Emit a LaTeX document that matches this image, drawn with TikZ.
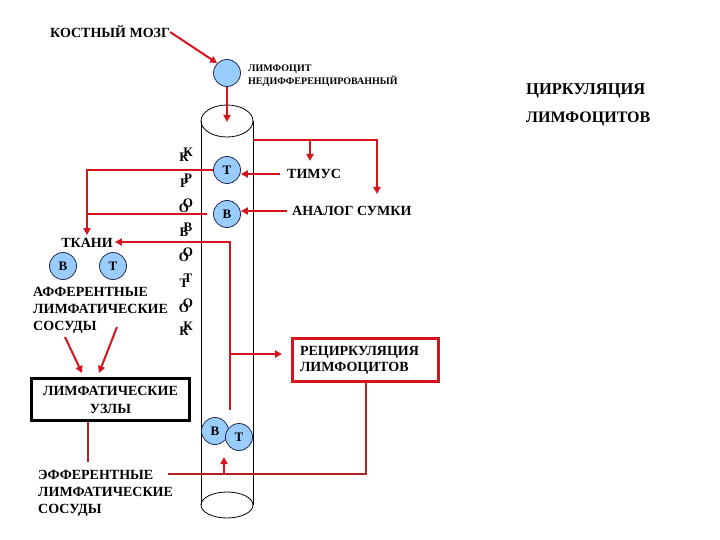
\documentclass[tikz,border=0pt]{standalone}
\usepackage{fontspec}
\setmainfont{Liberation Serif}
\usetikzlibrary{arrows.meta}
\definecolor{ared}{RGB}{214,20,28}
\definecolor{dred}{RGB}{178,34,34}
\definecolor{cellblue}{RGB}{153,204,255}
\definecolor{celledge}{RGB}{30,40,80}
\begin{document}
\begin{tikzpicture}[x=1pt,y=-1pt,
 lbl/.style={font=\bfseries\fontsize{14}{17}\selectfont, inner sep=0pt, align=left},
 cell/.style={circle, draw=celledge, line width=0.8pt, fill=cellblue, minimum size=27pt, inner sep=0pt, font=\bfseries\fontsize{13}{13}\selectfont},
 arr/.style={draw=ared, line width=2pt, -{Triangle[length=7pt,width=7pt]}},
 rline/.style={draw=ared, line width=2pt},
 dline/.style={draw=dred, line width=2pt},
 letter/.style={font=\bfseries\fontsize{13}{13}\selectfont, inner sep=0pt},
 tube/.style={draw=black, line width=0.8pt}]
\useasboundingbox (0,0) rectangle (720,540);
\fill[white] (0,0) rectangle (720,540);

% tube
\draw[tube] (227,121) ellipse [x radius=26, y radius=16];
\draw[tube] (201,121) -- (201,505);
\draw[tube] (253,121) -- (253,505);
\draw[tube] (227,505) ellipse [x radius=26, y radius=13];

% vertical word
\foreach \ch/\yy [count=\i] in {К/157,Р/183,О/208,В/232,О/257,Т/283,О/308,К/331}{
  \node[letter] (lo\i) at (184,\yy) {\ch};
  \node[letter] (up\i) at (188,\yy-5) {\ch};
}

% texts and cells
\node[lbl, anchor=west] (km) at (50,32) {КОСТНЫЙ МОЗГ};
\node[cell] (lym) at (227,73) {};
\node[lbl, anchor=west, font=\bfseries\fontsize{10}{13}\selectfont] (lymt) at (248,76) {ЛИМФОЦИТ\\НЕДИФФЕРЕНЦИРОВАННЫЙ};
\node[lbl, anchor=west, font=\bfseries\fontsize{16.5}{17}\selectfont] (circ1) at (526,91) {ЦИРКУЛЯЦИЯ};
\node[lbl, anchor=west, font=\bfseries\fontsize{16}{17}\selectfont] (circ2) at (526,119) {ЛИМФОЦИТОВ};
\node[cell] (T) at (227,170) {Т};
\node[cell] (B) at (227,214) {В};
\node[lbl, anchor=west] (timus) at (287,174) {ТИМУС};
\node[lbl, anchor=west] (analog) at (292,211) {АНАЛОГ СУМКИ};
\node[lbl] (tkani) at (87,243) {ТКАНИ};
\node[cell] (tB) at (63,266) {В};
\node[cell] (tT) at (113,266) {Т};
\node[lbl, anchor=west] (aff) at (33,310) {АФФЕРЕНТНЫЕ\\ЛИМФАТИЧЕСКИЕ\\СОСУДЫ};
\node[lbl, align=center, draw=black, line width=3pt, minimum width=158pt, minimum height=42pt, font=\bfseries\fontsize{14}{18}\selectfont] (uzly) at (110.5,399.5) {ЛИМФАТИЧЕСКИЕ\\УЗЛЫ};
\node[lbl, anchor=west] (eff) at (38,493) {ЭФФЕРЕНТНЫЕ\\ЛИМФАТИЧЕСКИЕ\\СОСУДЫ};
\node[lbl, draw=ared, line width=3pt, text width=131pt, minimum width=146pt, minimum height=43pt, font=\bfseries\fontsize{14}{16}\selectfont] (recirc) at (365.5,360) {РЕЦИРКУЛЯЦИЯ\\ЛИМФОЦИТОВ};
\node[cell] (bB) at (215,431) {В};
\node[cell] (bT) at (239,437) {Т};

% coordinates
\coordinate (c0) at (227,122);
\coordinate (r0) at (253,140);
\coordinate (r1) at (310,140);
\coordinate (r1e) at (310,161);
\coordinate (r2e) at (377,194);
\coordinate (v0) at (230,242);
\coordinate (v1) at (230,410);
\coordinate (vb) at (230,354);
\coordinate (e2) at (168,474);
\coordinate (e3) at (224,474);
\coordinate (e4) at (224,457);
\coordinate (u1) at (88,462);
\coordinate (a1) at (65,337);
\coordinate (a2) at (82,373);
\coordinate (b1) at (117,327);
\coordinate (b2) at (99,373);

% connectors
\draw[arr] (km.east) -- (lym.north west);
\draw[arr] (lym.south) -- (c0);
\draw[arr] (r0) -| (r2e);
\draw[arr] (r1) -- (r1e);
\draw[arr, shorten <=7pt] (timus.west) -- (timus.west -| T.east);
\draw[arr, shorten <=5pt] (analog.west) -- (analog.west -| B.east);
\draw[arr, shorten >=3pt] (T.west) -| (tkani.north);
\draw[rline, shorten <=6pt] (B.west) -- (B.west -| tkani.north);
\draw[arr, shorten >=2pt] (v1) -- (v0) -- (v0 -| tkani.east);
\draw[arr, shorten >=9pt] (vb) -- (vb -| recirc.west);
\draw[dline] (recirc.south) |- (e2);
\draw[arr] (e3) -- (e4);
\draw[dline] (uzly.south -| u1) -- (u1);
\draw[arr] (a1) -- (a2);
\draw[arr] (b1) -- (b2);
\end{tikzpicture}
\end{document}
